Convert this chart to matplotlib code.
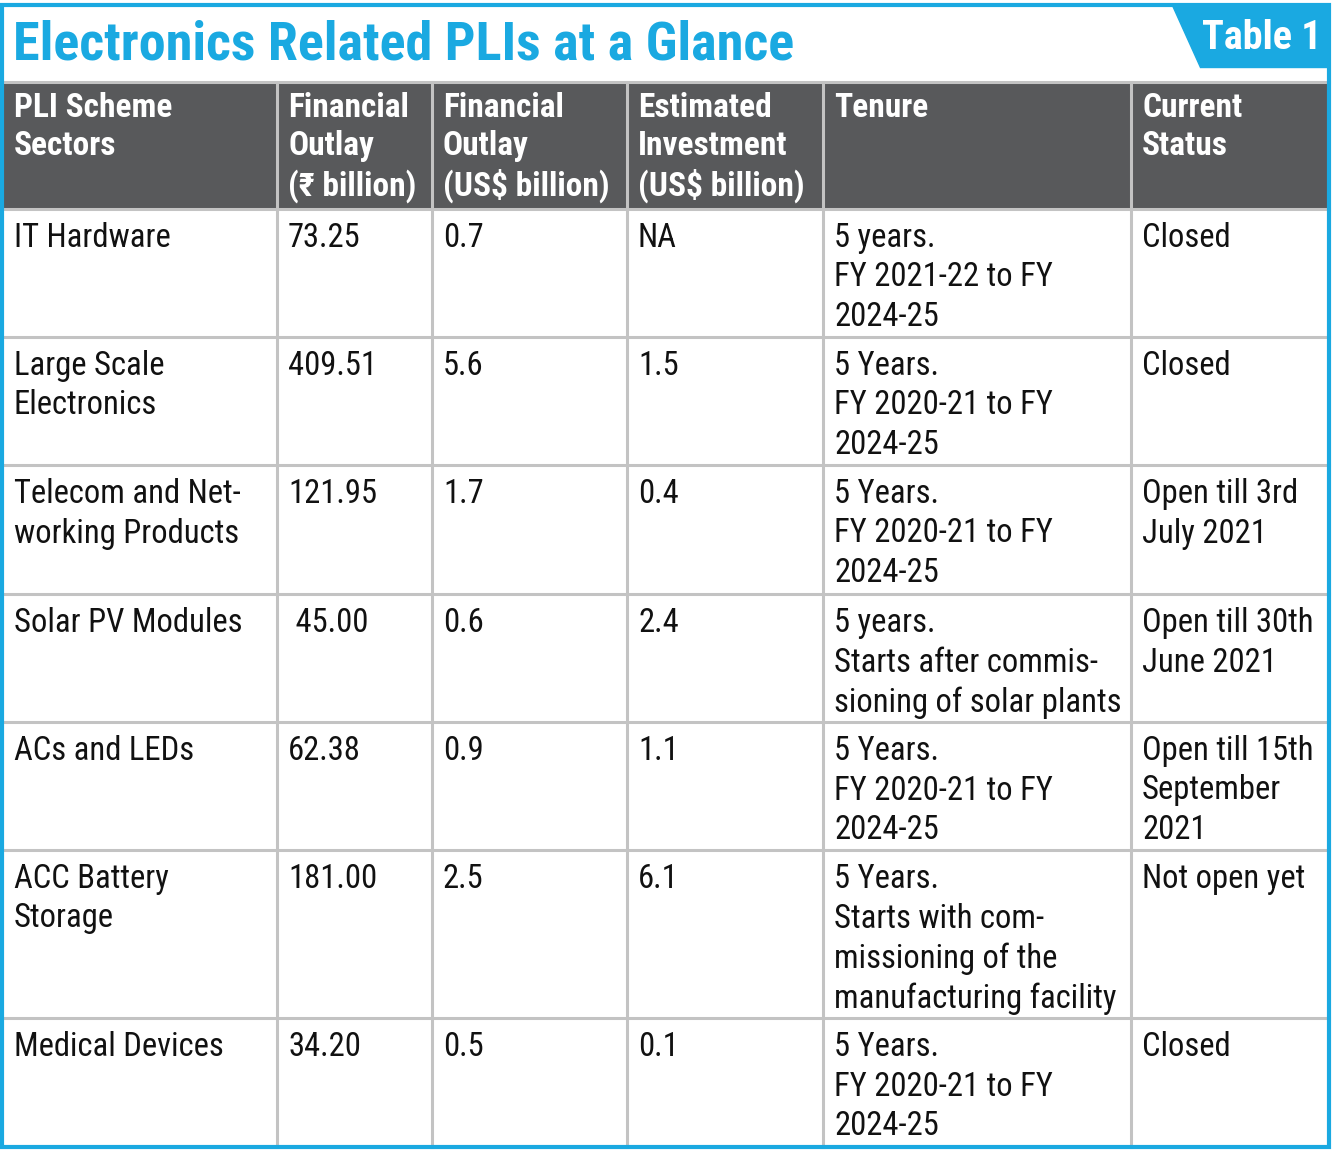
import matplotlib.pyplot as plt
from matplotlib.patches import Rectangle, Polygon

# table content
title = "Electronics Related PLIs at a Glance"
tab_label = "Table 1"
headers = ["PLI Scheme\nSectors", "Financial\nOutlay\n(\u20b9 billion)", "Financial\nOutlay\n(US$ billion)",
           "Estimated\nInvestment\n(US$ billion)", "Tenure", "Current\nStatus"]
sectors = ["IT Hardware", "Large Scale\nElectronics", "Telecom and Net-\nworking Products", "Solar PV Modules",
           "ACs and LEDs", "ACC Battery\nStorage", "Medical Devices"]
outlay_inr = ["73.25", "409.51", "121.95", " 45.00", "62.38", "181.00", "34.20"]
outlay_usd = ["0.7", "5.6", "1.7", "0.6", "0.9", "2.5", "0.5"]
investment = ["NA", "1.5", "0.4", "2.4", "1.1", "6.1", "0.1"]
tenure = ["5 years.\nFY 2021-22 to FY\n2024-25",
          "5 Years.\nFY 2020-21 to FY\n2024-25",
          "5 Years.\nFY 2020-21 to FY\n2024-25",
          "5 years.\nStarts after commis-\nsioning of solar plants",
          "5 Years.\nFY 2020-21 to FY\n2024-25",
          "5 Years.\nStarts with com-\nmissioning of the\nmanufacturing facility",
          "5 Years.\nFY 2020-21 to FY\n2024-25"]
status = ["Closed", "Closed", "Open till 3rd\nJuly 2021", "Open till 30th\nJune 2021",
          "Open till 15th\nSeptember\n2021", "Not open yet", "Closed"]

BLUE = "#1aa9e1"
GREY = "#58595b"
LINE = "#c3c3c3"
FONT = ["Roboto Condensed", "DejaVu Sans"]

col_edges = [3, 277, 432, 627, 823, 1131, 1329]
row_edges = [82, 209, 337, 465, 594, 722, 850, 1018, 1147]

fig = plt.figure(figsize=(13.32, 11.65), dpi=100)
ax = fig.add_axes([0, 0, 1, 1])
ax.set_xlim(0, 1332)
ax.set_ylim(1165, 0)
ax.axis("off")

# header band
ax.add_patch(Rectangle((col_edges[0], row_edges[0]), col_edges[-1] - col_edges[0],
                       row_edges[1] - row_edges[0], color=GREY, zorder=1))

# grid lines
for y in row_edges[1:-1]:
    ax.plot([col_edges[0], col_edges[-1]], [y, y], color=LINE, lw=2.2, zorder=2)
ax.plot([col_edges[0], col_edges[-1]], [row_edges[0], row_edges[0]], color=LINE, lw=2.2, zorder=2)
for x in col_edges[1:-1]:
    ax.plot([x, x], [row_edges[0], row_edges[-1]], color=LINE, lw=2.2, zorder=2)

# outer blue frame
ax.add_patch(Rectangle((2, 5), 1327, 1142, fill=False, edgecolor=BLUE, lw=3, zorder=4))

# tab
ax.add_patch(Polygon([(1172, 5), (1329, 5), (1329, 67), (1200, 67)], closed=True,
                     color=BLUE, zorder=3))
ax.text(1262, 38, tab_label, color="white", fontsize=29, fontweight="bold",
        family=FONT, ha="center", va="center", zorder=5)

ax.text(13, 45, title, color=BLUE, fontsize=39, fontweight="bold", family=FONT,
        ha="left", va="center", zorder=5)

# header text
for i, h in enumerate(headers):
    ax.text(col_edges[i] + 11, row_edges[0] + 10, h, color="white", fontsize=24,
            fontweight="bold", family=FONT, ha="left", va="top", linespacing=1.25, zorder=5)

columns = [sectors, outlay_inr, outlay_usd, investment, tenure, status]
for r in range(len(sectors)):
    for c, col in enumerate(columns):
        ax.text(col_edges[c] + 11, row_edges[r + 1] + 13, col[r], color="#111111",
                fontsize=23.5, family=FONT, ha="left", va="top", linespacing=1.3, zorder=5)

fig.savefig("out.png", dpi=100, facecolor="white")
